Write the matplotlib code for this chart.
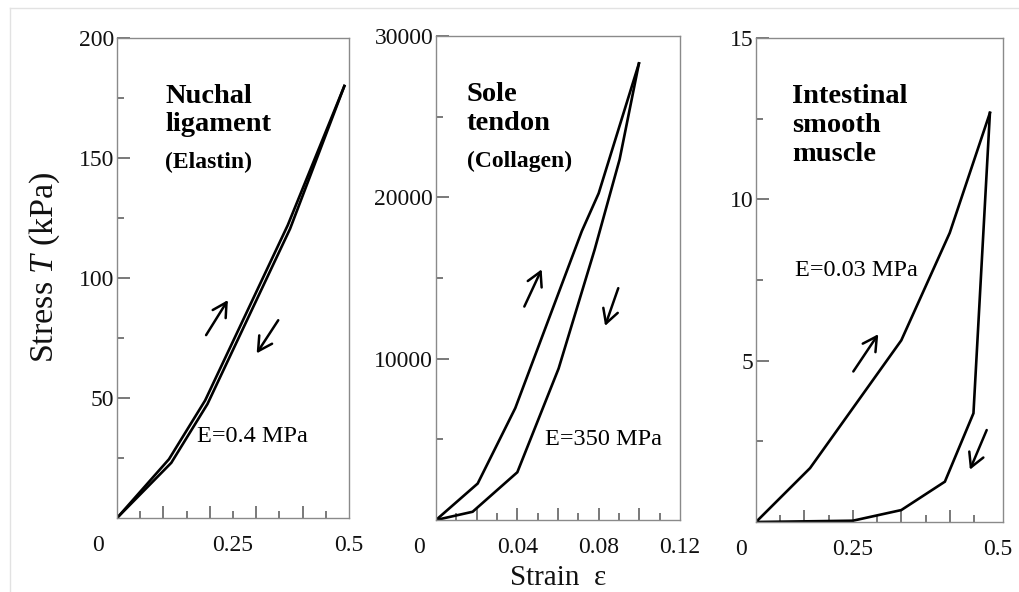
import numpy as np
import matplotlib as mpl
import matplotlib.pyplot as plt
from matplotlib.lines import Line2D

plt.rcParams['font.family'] = ['Liberation Serif', 'DejaVu Serif']
plt.rcParams['mathtext.fontset'] = 'custom'
plt.rcParams['mathtext.rm'] = 'Liberation Serif'
plt.rcParams['mathtext.it'] = 'Liberation Serif:italic'

# ---- data ----
# nuchal ligament (elastin)
elastin_load_x = [0, 0.112, 0.19, 0.368, 0.49]
elastin_load_y = [0, 24.5, 49, 122, 180]
elastin_unload_x = [0.49, 0.373, 0.195, 0.117, 0]
elastin_unload_y = [180, 120.5, 47.5, 23, 0]

# sole tendon (collagen)
collagen_load_x = [0, 0.0205, 0.039, 0.0717, 0.08, 0.0998]
collagen_load_y = [0, 2260, 6940, 17900, 20250, 28300]
collagen_unload_x = [0.0998, 0.0903, 0.078, 0.0603, 0.04, 0.018, 0]
collagen_unload_y = [28300, 22350, 16750, 9390, 2960, 510, 0]

# intestinal smooth muscle
muscle_load_x = [0, 0.1116, 0.30, 0.40, 0.483]
muscle_load_y = [0, 1.67, 5.63, 8.96, 12.68]
muscle_unload_x = [0.483, 0.449, 0.39, 0.30, 0.2, 0]
muscle_unload_y = [12.68, 3.37, 1.25, 0.37, 0.04, 0]

titles = ["Nuchal\nligament", "Sole\ntendon", "Intestinal\nsmooth\nmuscle"]
subtitles = ["(Elastin)", "(Collagen)", ""]
moduli = ["E=0.4 MPa", "E=350 MPa", "E=0.03 MPa"]

xtick_pos = [[0, 0.25, 0.5], [0, 0.04, 0.08, 0.12], [0, 0.2, 0.5]]
xtick_lab = [["0", "0.25", "0.5"], ["0", "0.04", "0.08", "0.12"], ["0", "0.25", "0.5"]]
ytick_pos = [[50, 100, 150, 200], [10000, 20000, 30000], [5, 10, 15]]

# ---- layout ----
W, H = 1019, 592
fig = plt.figure(figsize=(W/100, H/100), dpi=100)

boxes = [(117, 38, 349, 518), (436, 36, 680, 520), (756, 38, 1003, 522)]
axs = []
for (l, t, r, b) in boxes:
    axs.append(fig.add_axes([l/W, 1 - b/H, (r - l)/W, (b - t)/H]))

xlims = [(0, 0.5), (0, 0.12), (0, 0.51)]
ylims = [(0, 200), (0, 30000), (0, 15)]
xmaj = [np.arange(0.1, 0.45, 0.1), np.arange(0.02, 0.105, 0.02), np.arange(0.1, 0.45, 0.1)]
xmin = [np.arange(0.05, 0.5, 0.1), np.arange(0.01, 0.115, 0.02), np.arange(0.05, 0.5, 0.1)]
ymin = [[25, 75, 125, 175], [5000, 15000, 25000], [2.5, 7.5, 12.5]]
zero_dx = [-14, -12, -11]

loads = [(elastin_load_x, elastin_load_y), (collagen_load_x, collagen_load_y),
         (muscle_load_x, muscle_load_y)]
unloads = [(elastin_unload_x, elastin_unload_y), (collagen_unload_x, collagen_unload_y),
           (muscle_unload_x, muscle_unload_y)]

title_pos = [(0.207, 0.905), (0.126, 0.905), (0.146, 0.905)]
sub_gap = [0.143, 0.143, 0]
mod_pos = [(0.343, 0.17), (0.447, 0.167), (0.158, 0.52)]
up_arrows = [((0.384, 0.381), (0.478, 0.454)),
             ((0.362, 0.441), (0.433, 0.518)),
             ((0.394, 0.311), (0.495, 0.388))]
down_arrows = [((0.695, 0.412), (0.602, 0.343)),
               ((0.747, 0.479), (0.693, 0.401)),
               ((0.934, 0.190), (0.866, 0.108))]

frame_col = '#8a8a8a'
for i, ax in enumerate(axs):
    ax.plot(*loads[i], color='k', lw=1.9, solid_joinstyle='miter')
    ax.plot(*unloads[i], color='k', lw=1.9, solid_joinstyle='miter')
    ax.set_xlim(*xlims[i])
    ax.set_ylim(*ylims[i])

    for s in ax.spines.values():
        s.set_color(frame_col)
        s.set_linewidth(1.0)

    ax.set_xticks(xmaj[i])
    ax.set_xticks(xmin[i], minor=True)
    ax.set_xticklabels([])
    ax.set_yticks(ytick_pos[i])
    ax.set_yticks(ymin[i], minor=True)
    ax.set_yticklabels([str(v) for v in ytick_pos[i]], fontsize=17)
    ax.tick_params(which='major', direction='in', length=9, width=1.1,
                   color='#555555', pad=2)
    ax.tick_params(which='minor', direction='in', length=5, width=1.1,
                   color='#555555')
    ax.tick_params(axis='y', labelcolor='#111111')

    for x, lab in zip(xtick_pos[i], xtick_lab[i]):
        dx = zero_dx[i] if lab == "0" else 0
        ax.annotate(lab, xy=(x, 0), xycoords=('data', 'axes fraction'),
                    xytext=(dx, -19.5), textcoords='offset points',
                    ha='center', va='center', fontsize=17, color='#111111')

    tx, ty = title_pos[i]
    ax.text(tx, ty, titles[i], transform=ax.transAxes, fontsize=20.5,
            fontweight='bold', va='top', ha='left', linespacing=1.2)
    if subtitles[i]:
        ax.text(tx, ty - sub_gap[i], subtitles[i], transform=ax.transAxes,
                fontsize=17, fontweight='bold', va='top', ha='left')
    ax.text(*mod_pos[i], moduli[i], transform=ax.transAxes, fontsize=17.5,
            va='center', ha='left')

    for (tail, head) in (up_arrows[i], down_arrows[i]):
        ax.annotate('', xy=head, xytext=tail, xycoords='axes fraction',
                    textcoords='axes fraction',
                    arrowprops=dict(arrowstyle='->,head_length=1.0,head_width=0.55',
                                    color='k', lw=1.8, shrinkA=0, shrinkB=0))

fig.text(45/W, 1 - 267/H, "Stress $T$ (kPa)", rotation=90, ha='center',
         va='center', fontsize=24.5, color='#111111')
fig.text(558/W, 1 - 578/H, "Strain  \u03b5", ha='center', va='center',
         fontsize=21, color='#111111')

# faint scan border
fig.add_artist(Line2D([10/W, 1], [1 - 8/H, 1 - 8/H], transform=fig.transFigure,
                      color='#e2e2e2', lw=1))
fig.add_artist(Line2D([10/W, 10/W], [0, 1 - 8/H], transform=fig.transFigure,
                      color='#e2e2e2', lw=1))

fig.savefig('out.png', dpi=100)
